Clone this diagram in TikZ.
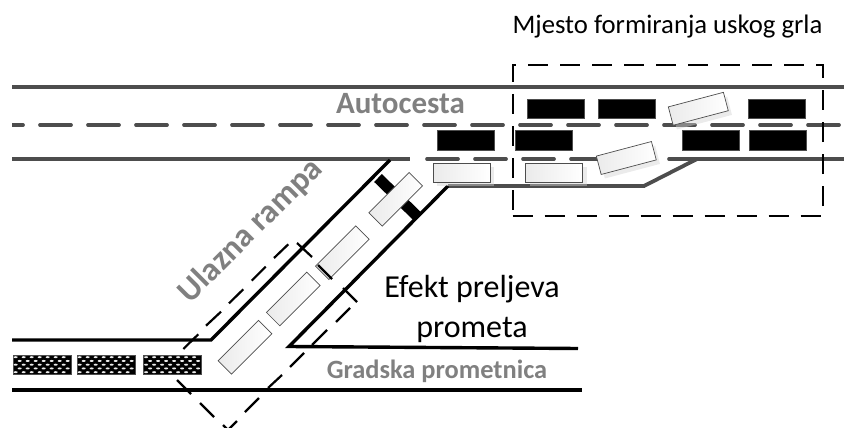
\documentclass[tikz,border=0pt]{standalone}
\usepackage{fontspec}
\setmainfont{Carlito}
\usetikzlibrary{shadings}
\definecolor{road}{HTML}{4D4D4D}
\definecolor{lbl}{HTML}{808080}
\tikzset{
  roadline/.style={draw=road,line width=3.7pt},
  rampline/.style={draw=black,line width=3.4pt,line join=miter},
  lanedash/.style={draw=road,line width=3.7pt,dash pattern=on 31pt off 17pt,line cap=round},
  zoneline/.style={draw=black,line width=2.4pt},
  blacktruck/.style={fill=black,draw=road,line width=.6pt,minimum width=57pt,minimum height=19pt,inner sep=0pt},
  meshbox/.style={fill=black,draw=road,line width=.5pt,minimum width=57.5pt,minimum height=19.5pt,inner sep=0pt},
  whitetruck/.style={draw=road,line width=.7pt,left color=gray!16,right color=white,minimum width=57pt,minimum height=19pt,inner sep=0pt},
  shadowbox/.style={fill=gray!35,fill opacity=.45,minimum width=57pt,minimum height=19pt,inner sep=0pt},
  greylabel/.style={text=lbl,inner sep=0pt},
  blacklabel/.style={text=black,inner sep=0pt}
}
\newcommand{\meshdots}[2]{%
  \foreach \r in {0,1,2,3,4}{%
    \pgfmathsetmacro{\off}{mod(\r,2)*4}%
    \foreach \c in {0,...,6}{%
      \fill[white!85!gray] ({#1+2.4+\off+\c*8},{#2+2.2+\r*3.75}) ellipse (2pt and 1pt);
    }}}
\begin{document}
\begin{tikzpicture}[x=1pt,y=-1pt]
\useasboundingbox (0,0) rectangle (844,428);
% motorway
\draw[roadline] (12,87) -- (844,87);
\draw[lanedash] (-8,125) -- (844,125);
\fill[white] (0,120) rectangle (12,130);
\draw[roadline] (12,159) -- (410,159);
\draw[lanedash] (427,159) -- (600,159);
\draw[roadline,line cap=round] (669,159) -- (844,159);
\draw[roadline,line width=3.8pt,line join=miter] (448,186) -- (644,186) -- (697,159);
% ramp and city road
\draw[rampline] (390,160) -- (211,340) -- (12,340);
\draw[rampline] (448,186) -- (289,346.5) -- (578,348.5);
\draw[rampline] (12,390) -- (582,390);
% black stripe crossing the ramp
\draw[black,line width=11pt] (378,178) -- (418,217);
% black trucks
\node[blacktruck] (b1) at (555.6,108.8) {};
\node[blacktruck] (b2) at (626.3,108.8) {};
\node[blacktruck] (b3) at (776.3,108.8) {};
\node[blacktruck,minimum height=19.6pt] (b4) at (465.5,140.5) {};
\node[blacktruck,minimum height=19.6pt] (b5) at (543.6,140.5) {};
\node[blacktruck,minimum height=19.6pt] (b6) at (711.2,140.5) {};
\node[blacktruck,minimum height=19.6pt] (b7) at (777.5,140.5) {};
% shadows
\node[shadowbox] (s1) at (465.5,176.5) {};
\node[shadowbox] (s2) at (558,176.5) {};
\node[shadowbox,rotate=14.8] (s3) at (630,162) {};
\node[shadowbox,rotate=14.8] (s4) at (702,113) {};
% white trucks
\node[whitetruck] (t1) at (461.5,172.7) {};
\node[whitetruck] (t2) at (554.2,173) {};
\node[whitetruck,rotate=14.8] (t3) at (626.3,158) {};
\node[whitetruck,rotate=14.8] (t4) at (698.3,108.8) {};
\node[whitetruck,rotate=45] (r1) at (395.7,199.3) {};
\node[whitetruck,rotate=45] (r2) at (342.3,252.7) {};
\node[whitetruck,rotate=45] (r3) at (293.3,299) {};
\node[whitetruck,rotate=45] (r4) at (245,347.3) {};
% mesh trucks
\node[meshbox] (m1) at (42.2,364.8) {};
\node[meshbox] (m2) at (106.2,364.8) {};
\node[meshbox] (m3) at (172.4,364.8) {};
\begin{scope}
\clip (13.3,355) rectangle (71,374.7);
\meshdots{13.3}{355}
\end{scope}
\begin{scope}
\clip (77.3,355) rectangle (135,374.7);
\meshdots{77.3}{355}
\end{scope}
\begin{scope}
\clip (143.7,355) rectangle (201,374.7);
\meshdots{143.7}{355}
\end{scope}
% bottleneck zone
\draw[zoneline,dash pattern=on 20pt off 12pt] (512.7,216) -- (822.7,216) -- (822.7,65) -- (512.7,65) -- cycle;
% dashed ramp zone, visible dashes only
\begin{scope}
\clip (0,0) rectangle (844,428);
\draw[zoneline,line width=2.2pt]
  (288.3,244.3) -- (274,258) (265.7,266.7) -- (251.7,280.7) (243.3,289.3) -- (229,303.3)
  (221,311.7) -- (206,325.7) (198.3,334.3) -- (183.3,349)
  (297,243) -- (312,257) (318,265) -- (332,279) (343,288) -- (357,302)
  (350,308) -- (336,322) (327,330) -- (312,345) (304,353) -- (290,367)
  (282,375) -- (268,388) (259,398) -- (245,412) (237,421) -- (223,435)
  (177,380) -- (191,394) (200,403) -- (214,417) (223,425) -- (233,435);
\end{scope}
% labels
\node[blacklabel,font=\fontsize{26.7}{32}\selectfont] (zone) at (667.5,27) {Mjesto formiranja uskog grla};
\node[greylabel,font=\bfseries\fontsize{31}{36}\selectfont] (auto) at (400.5,104) {Autocesta};
\node[greylabel,font=\bfseries\fontsize{33}{38}\selectfont,rotate=45] (ramp) at (251,231) {Ulazna rampa};
\node[blacklabel,font=\fontsize{32}{40}\selectfont,align=center] (over) at (472,309) {Efekt preljeva\\prometa};
\node[greylabel,font=\bfseries\fontsize{26.4}{30}\selectfont] (city) at (437,371) {Gradska prometnica};
\end{tikzpicture}
\end{document}
